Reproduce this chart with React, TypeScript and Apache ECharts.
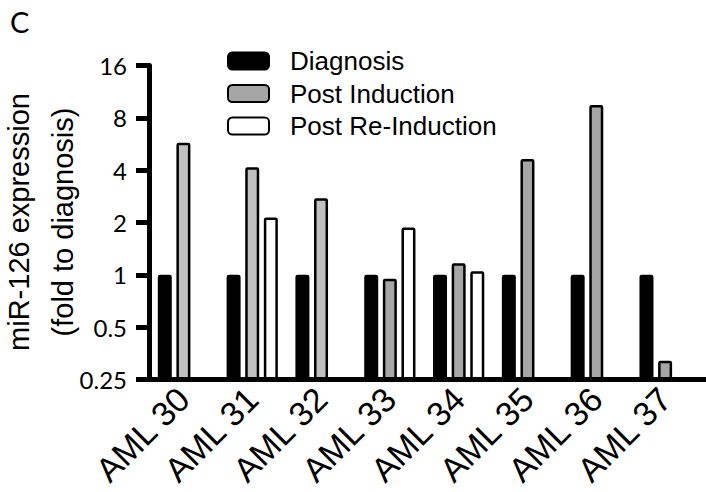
import React, { useEffect, useRef } from "react";
import * as echarts from "echarts";

const categories = ["AML 30", "AML 31", "AML 32", "AML 33", "AML 34", "AML 35", "AML 36", "AML 37"];
const diagnosis = [1, 1, 1, 1, 1, 1, 1, 1];
const postInduction = [5.76, 4.16, 2.76, 0.95, 1.165, 4.64, 9.48, 0.32];
const postReInduction: (number | null)[] = [null, 2.14, null, 1.87, 1.05, null, null, null];
const yTicks = [0.25, 0.5, 1, 2, 4, 8, 16];
const yTitle = "miR-126 expression\n(fold to diagnosis)";

// style only: fill of the Post Induction bars
const postInductionFill = ["#c0c0c0", "#c0c0c0", "#c0c0c0", "#a6a6a6", "#a6a6a6", "#a6a6a6", "#a6a6a6", "#a6a6a6"];

export default function App() {
  const ref = useRef<HTMLDivElement>(null);
  useEffect(() => {
    if (!ref.current) return;
    const chart = echarts.init(ref.current, null, { renderer: "svg" });
    const border = { borderColor: "#000", borderWidth: 2.5, borderRadius: 1 };
    chart.setOption({
      animation: false,
      backgroundColor: "#fff",
      graphic: [
        {
          type: "text",
          left: 10,
          top: 7,
          style: { text: "C", font: "29px Lato", fill: "#000" },
        },
        {
          type: "text",
          x: 41,
          y: 222,
          rotation: Math.PI / 2,
          style: {
            text: yTitle,
            font: "29px 'Liberation Sans'",
            fill: "#000",
            lineHeight: 44,
            align: "center",
            verticalAlign: "middle",
            textAlign: "center",
            textVerticalAlign: "middle",
          },
        },
        {
          type: "rect",
          shape: { x: 699, y: 377, width: 7, height: 5 },
          style: { fill: "#000" },
        },
      ],
      legend: {
        orient: "vertical",
        left: 222,
        top: 43,
        itemWidth: 41,
        itemHeight: 17,
        itemGap: 6.5,
        selectedMode: false,
        textStyle: { fontFamily: "Liberation Sans", fontSize: 26, color: "#000", padding: [4, 0, 0, 16] },
        data: ["Diagnosis", "Post Induction", "Post Re-Induction"],
      },
      grid: {
        left: 149,
        top: 65.5,
        right: 6.5,
        bottom: 112.5,
        containLabel: false,
        outerBoundsMode: "none",
      },
      xAxis: {
        type: "category",
        data: categories,
        axisLine: { lineStyle: { color: "#000", width: 5 } },
        axisTick: { alignWithLabel: true, length: 9, lineStyle: { color: "#000", width: 5 } },
        axisLabel: {
          rotate: 45,
          margin: 14,
          fontFamily: "Liberation Sans",
          fontSize: 34,
          color: "#000",
        },
      },
      yAxis: {
        type: "log",
        logBase: 2,
        min: yTicks[0],
        max: yTicks[yTicks.length - 1],
        startValue: yTicks[0],
        splitLine: { show: false },
        axisLine: { show: true, lineStyle: { color: "#000", width: 5 } },
        axisTick: { show: true, length: 13, lineStyle: { color: "#000", width: 5 } },
        axisLabel: {
          margin: 22,
          fontFamily: "Lato",
          fontSize: 24,
          color: "#000",
          formatter: (v: number) => String(Math.round(v * 100) / 100),
        },
      },
      series: [
        {
          name: "Diagnosis",
          type: "bar",
          barWidth: 14,
          barGap: "33%",
          data: diagnosis,
          itemStyle: { color: "#000", ...border },
        },
        {
          name: "Post Induction",
          type: "bar",
          barWidth: 14,
          barGap: "33%",
          data: postInduction.map((v, i) => ({ value: v, itemStyle: { color: postInductionFill[i] } })),
          itemStyle: { color: "#a6a6a6", ...border },
        },
        {
          name: "Post Re-Induction",
          type: "bar",
          barWidth: 14,
          barGap: "33%",
          data: postReInduction,
          itemStyle: { color: "#fff", ...border },
        },
      ],
    });
    return () => chart.dispose();
  }, []);
  return <div ref={ref} style={{ width: 706, height: 492, position: "absolute", left: 0, top: 0 }} />;
}
